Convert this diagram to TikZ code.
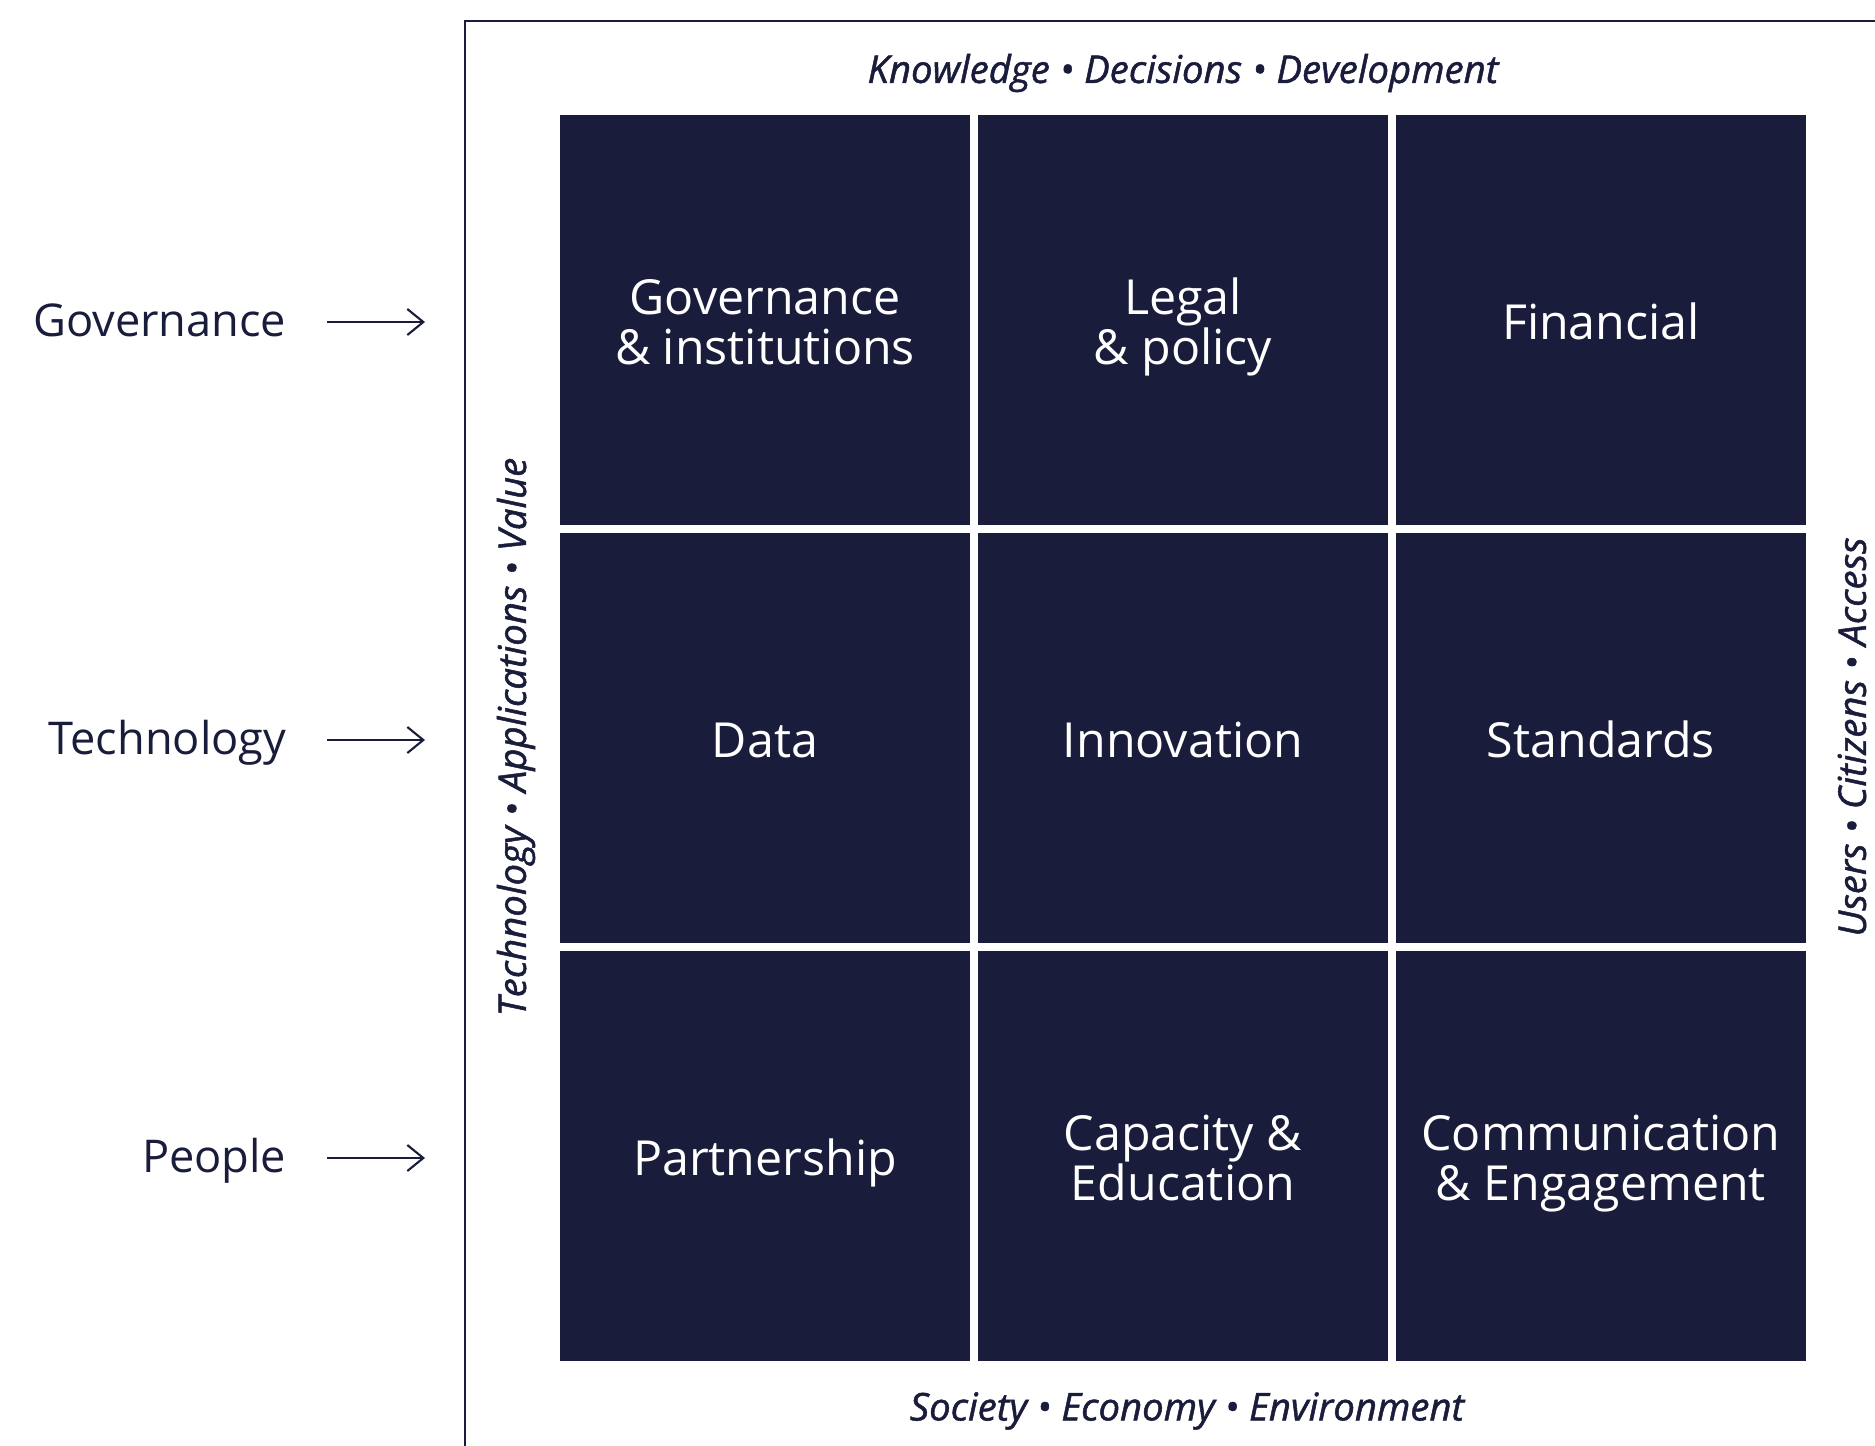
\documentclass[tikz,border=0pt]{standalone}
\usepackage{fontspec}
\setmainfont{Open Sans}
\newfontfamily\axisfont{Open Sans}[ItalicFeatures={FakeBold=1.3}]
\usepackage{tikz}
\usetikzlibrary{arrows.meta}
\usetikzlibrary{positioning}
\definecolor{navy}{HTML}{191C3A}
\tikzset{>={Straight Barb[length=1.6mm,width=2.6mm]}}
\newcommand\cellstrut{\rule[-3.4pt]{0pt}{17.8pt}}
\newcommand\tallstrut{\rule[-3.4pt]{0pt}{32.2pt}}

\begin{document}
\begin{tikzpicture}[node distance=0.08cm,
    cell/.style={fill=navy, text=white, minimum size=4.10cm, inner sep=0pt,
        outer sep=0pt, align=center, font=\fontsize{13.75}{14.4}\selectfont,
        execute at begin node=\cellstrut, execute at end node=\cellstrut},
    twoline/.style={cell, execute at begin node=\tallstrut},
    side/.style={text=navy, anchor=east, inner sep=0pt, text height=2.9mm,
        text depth=0pt, font=\fontsize{12.85}{15}\selectfont},
    axis/.style={text=navy, inner sep=0pt, font=\fontsize{10.9}{12}\axisfont\itshape},
    flow/.style={->, draw=navy, line width=0.6pt, shorten <=0.4cm}]
    \useasboundingbox (0,0) rectangle (18.75,-14.45);
    % open frame round the grid
    \draw [navy, line width=0.8pt] (4.65,-14.6) -- (4.65,-0.21) -- (18.9,-0.21);
    % the nine fields
    \node [twoline] (gov) at (7.65,-3.20) {Governance\\\& institutions};
    \node [twoline, right=of gov] (legal) {Legal\\\& policy};
    \node [cell, right=of legal] (fin) {Financial};
    \node [cell, below=of gov] (data) {Data};
    \node [cell, right=of data] (innov) {Innovation};
    \node [cell, right=of innov] (std) {Standards};
    \node [cell, below=of data] (partner) {Partnership};
    \node [twoline, right=of partner] (capacity) {Capacity \&\\Education};
    \node [twoline, right=of capacity] (comm) {Communication\\\& Engagement};
    % captions on the four sides
    \node [axis] (knowledge) at (11.83,-0.73) {Knowledge • Decisions • Development};
    \node [axis] (society) at (11.87,-14.11) {Society • Economy • Environment};
    \node [axis, rotate=90] (techval) at (5.16,-7.37) {Technology • Applications • Value};
    \node [axis, rotate=90] (users) at (18.52,-7.37) {Users • Citizens • Access};
    % row themes
    \node [side] (lgov) at (2.87,-3.22) {Governance};
    \node [side] (ltech) at (2.87,-7.40) {Technology};
    \node [side] (lpeople) at (2.87,-11.58) {People};
    \coordinate (gend) at (4.25,-3.22);
    \coordinate (tend) at (4.25,-7.40);
    \coordinate (pend) at (4.25,-11.58);
    \draw [flow] (lgov) -- (gend);
    \draw [flow] (ltech) -- (tend);
    \draw [flow] (lpeople) -- (pend);
\end{tikzpicture}
\end{document}
